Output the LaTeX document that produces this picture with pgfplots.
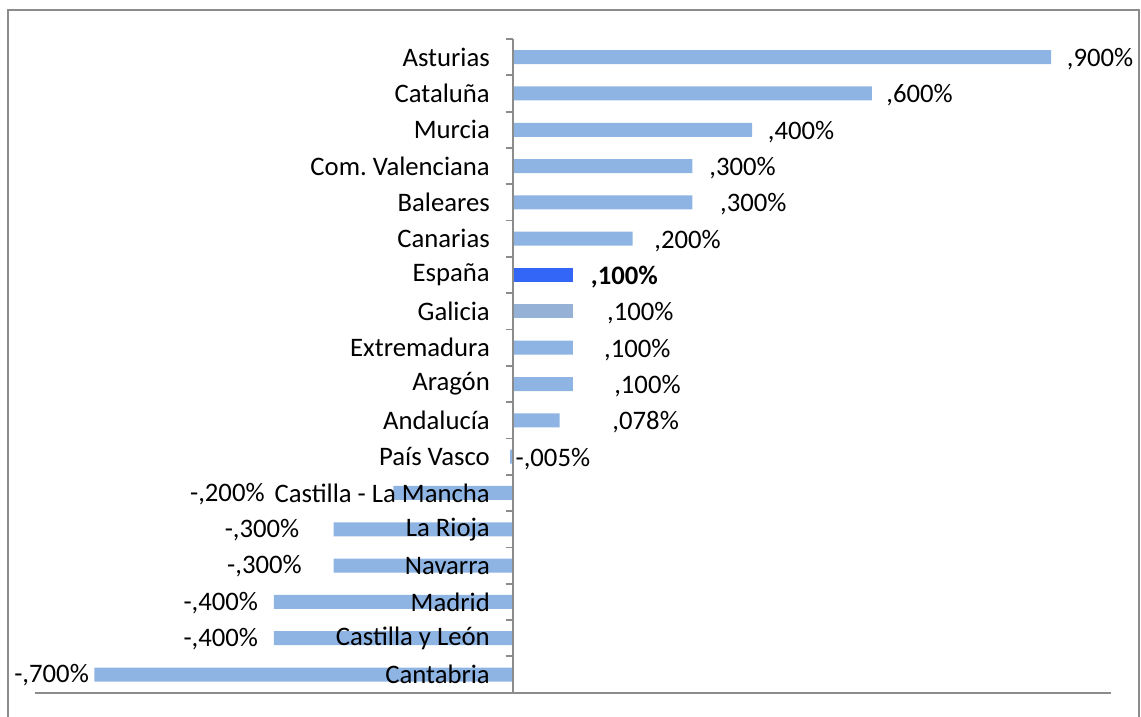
\documentclass[border=0pt]{standalone}
\usepackage{pgfplots}
\pgfplotsset{compat=1.18}
\usepackage{fontspec}
\setmainfont{Carlito}
\definecolor{barc}{HTML}{8EB4E3}
\definecolor{espc}{HTML}{3366F6}
\definecolor{galc}{HTML}{95B1D6}
\definecolor{axc}{HTML}{8C8C8C}
\begin{document}
\frenchspacing
\fontsize{26.7}{31}\selectfont
\begin{tikzpicture}
\useasboundingbox (0,0) rectangle (1141pt,717pt);
\draw[axc, line width=2pt] (7.5pt,-20pt) -- (7.5pt,707pt) -- (1139pt,707pt) -- (1139pt,-20pt);
\begin{axis}[
  at={(34.6pt,24.3pt)}, anchor=south west,
  scale only axis, width=1076.4pt, height=653.7pt,
  xmin=-0.8, xmax=1.0, ymin=-0.5, ymax=17.5,
  axis x line=bottom, axis y line=middle,
  axis line style={-, draw=axc, line width=1.8pt},
  axis on top,
  xtick=\empty,
  ytick={0,...,17},
  yticklabels={Cantabria, Castilla y León, Madrid, Navarra, La Rioja, Castilla - La Mancha, País Vasco, Andalucía, Aragón, Extremadura, Galicia, España, Canarias, Baleares, Com. Valenciana, Murcia, Cataluña, Asturias},
  minor ytick={-0.5,0.5,...,17.5},
  major tick length=0pt, minor tick length=7pt,
  tick align=outside,
  minor tick style={draw=axc, line width=1.8pt},
  yticklabel style={anchor=east, inner sep=0pt, xshift=-23pt, text=black},
  clip=false,
]
\addplot[xbar, bar width=14pt, bar shift=0pt, fill=barc, draw=none] table[x=v, y=y] {
y v
0 -0.7
1 -0.4
2 -0.4
3 -0.3
4 -0.3
5 -0.2
6 -0.005
7 0.078
8 0.1
9 0.1
12 0.2
13 0.3
14 0.3
15 0.4
16 0.6
17 0.9
};
\addplot[xbar, bar width=14pt, bar shift=0pt, fill=espc, draw=none] table[x=v, y=y] {
y v
11 0.1
};
\addplot[xbar, bar width=14pt, bar shift=0pt, fill=galc, draw=none] table[x=v, y=y] {
y v
10 0.1
};
\addplot[draw=none, mark=none, only marks,
  nodes near coords, point meta=explicit symbolic,
  every node near coord/.append style={anchor=west, inner sep=0pt, text=black, yshift=-2pt}]
  table[x=lx, y=y, meta=t] {
y lx t
17 0.926 ,900\%
16 0.624 ,600\%
15 0.426 ,400\%
14 0.328 ,300\%
13 0.346 ,300\%
12 0.236 ,200\%
11 0.130 \textbf{,100\%}
10 0.157 ,100\%
9 0.152 ,100\%
8 0.169 ,100\%
7 0.166 ,078\%
6 0.004 -,005\%
};
\addplot[draw=none, mark=none, only marks,
  nodes near coords, point meta=explicit symbolic,
  every node near coord/.append style={anchor=east, inner sep=0pt, text=black, yshift=-1pt}]
  table[x=lx, y=y, meta=t] {
y lx t
5 -0.415 -,200\%
4 -0.357 -,300\%
3 -0.353 -,300\%
2 -0.426 -,400\%
1 -0.426 -,400\%
0 -0.709 -,700\%
};
\end{axis}
\end{tikzpicture}
\end{document}
